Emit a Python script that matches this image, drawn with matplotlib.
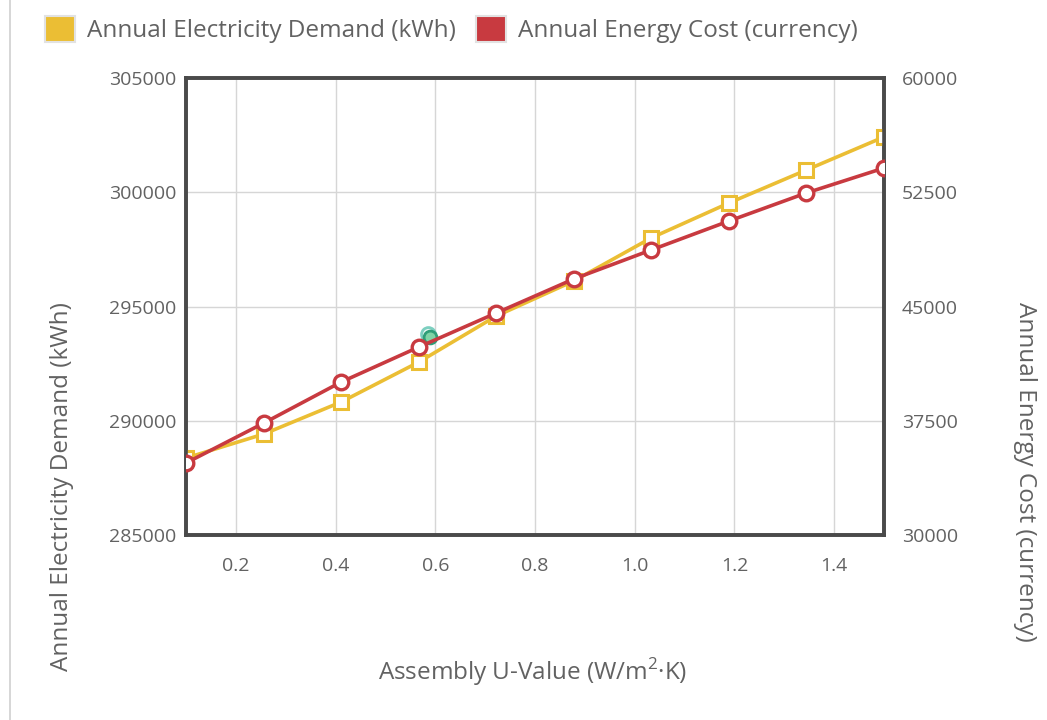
import matplotlib
matplotlib.use("Agg")
import matplotlib.pyplot as plt
from matplotlib.lines import Line2D
from matplotlib.patches import Patch

# U-values (W/m²·K) of the studied assemblies
u_values = [0.1, 0.256, 0.411, 0.567, 0.722, 0.878, 1.033, 1.189, 1.344, 1.5]
# Annual electricity demand (kWh)
demand_kwh = [288370, 289420, 290820, 292570, 294580, 296120, 298000, 299530, 300970, 302420]
# Annual energy cost (currency)
cost = [34730, 37350, 40040, 42340, 44570, 46810, 48710, 50610, 52450, 54090]

# Highlighted (hovered) points
hover_u = [0.586, 0.59]
hover_demand = [293800, 293650]

x_ticks = [0.2, 0.4, 0.6, 0.8, 1.0, 1.2, 1.4]
left_ticks = [285000, 290000, 295000, 300000, 305000]
right_ticks = [30000, 37500, 45000, 52500, 60000]

YELLOW = "#EBBE34"
RED = "#C83A40"
TXT = "#626262"
FONT = "Open Sans"
LABEL_SIZE = 17.5

plt.rcParams["font.family"] = [FONT, "DejaVu Sans"]
plt.rcParams["mathtext.fontset"] = "custom"
plt.rcParams["mathtext.rm"] = FONT

fig = plt.figure(figsize=(10.47, 7.2), dpi=100)
ax = fig.add_axes([0.1777, 0.2569, 0.6666, 0.6348])
ax2 = ax.twinx()

ax.set_xlim(0.1, 1.5)
ax.set_ylim(285000, 305000)
ax2.set_ylim(30000, 60000)

ax.set_xticks(x_ticks)
ax.set_xticklabels([f"{v:.1f}" for v in x_ticks])
ax.set_yticks(left_ticks)
ax.set_yticklabels([str(v) for v in left_ticks])
ax2.set_yticks(right_ticks)
ax2.set_yticklabels([str(v) for v in right_ticks])

ax.grid(True, color="#d6d6d6", linewidth=1.0)
ax.set_axisbelow(True)

for a in (ax, ax2):
    for s in a.spines.values():
        s.set_color("#4a4a4a")
        s.set_linewidth(2.6)
    a.tick_params(length=0, labelsize=14, colors=TXT)
ax.tick_params(axis="x", pad=16)
ax.tick_params(axis="y", pad=7)
ax2.tick_params(axis="y", pad=13)

ax.plot(u_values, demand_kwh, color=YELLOW, linewidth=2.6, marker="s",
        markersize=9.5, markerfacecolor="white", markeredgecolor=YELLOW,
        markeredgewidth=2.2, zorder=3)
ax2.plot(u_values, cost, color=RED, linewidth=2.6, marker="o",
         markersize=10.5, markerfacecolor="white", markeredgecolor=RED,
         markeredgewidth=2.4, zorder=4)
ax.scatter(hover_u[:1], hover_demand[:1], s=100, facecolor="#eef8f6",
           edgecolor="#7ccfc0", linewidth=2, zorder=5)
ax.scatter(hover_u[1:], hover_demand[1:], s=85, facecolor="#7fd4a6",
           edgecolor="#2e9e78", linewidth=2, zorder=6)

ax.set_xlabel("Assembly U-Value (W/m$^{2}$·K)", fontsize=LABEL_SIZE,
              color=TXT, va="center")
ax.xaxis.set_label_coords(0.497, -0.30)
ax.set_ylabel("Annual Electricity Demand (kWh)", fontsize=LABEL_SIZE,
              color=TXT, va="center")
ax.yaxis.set_label_coords(-0.178, 0.105)
ax2.set_ylabel("Annual Energy Cost (currency)", fontsize=LABEL_SIZE,
               color=TXT, rotation=270, va="center")
ax2.yaxis.set_label_coords(1.202, 0.138)

handles = [Patch(facecolor=YELLOW, edgecolor="#e2e2e2", linewidth=1.5,
                 label="Annual Electricity Demand (kWh)"),
           Patch(facecolor=RED, edgecolor="#e2e2e2", linewidth=1.5,
                 label="Annual Energy Cost (currency)")]
fig.legend(handles=handles, loc="upper left", bbox_to_anchor=(0.022, 1.008),
           ncol=2, frameon=False, fontsize=LABEL_SIZE, handlelength=1.25,
           handleheight=1.25, handletextpad=0.5, columnspacing=0.8,
           labelcolor=TXT)

# thin page edge on the left
fig.add_artist(Line2D([0.0095, 0.0095], [0.0, 1.0], color="#d0d0d0",
                      linewidth=1.2, transform=fig.transFigure))

fig.savefig("out.png", dpi=100, facecolor="white")
